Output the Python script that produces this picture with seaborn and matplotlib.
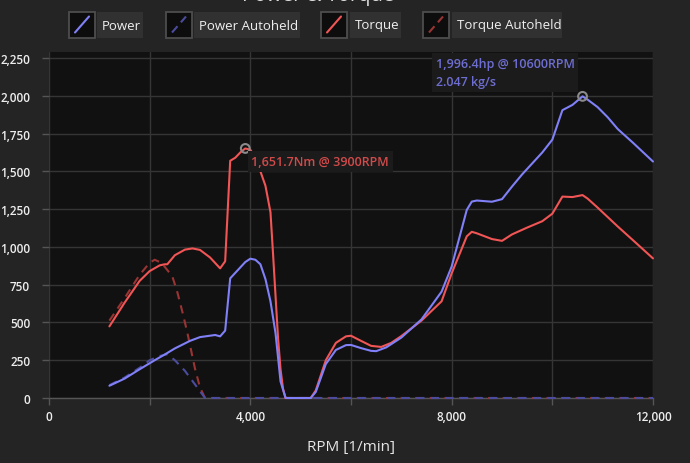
import numpy as np
import pandas as pd
import matplotlib
matplotlib.use('Agg')
import matplotlib.pyplot as plt
from matplotlib.patches import Rectangle
from matplotlib.lines import Line2D
from matplotlib.ticker import FuncFormatter
import seaborn as sns

# ---------------- data ----------------
power_rpm = [1200, 1500, 1800, 2100, 2300, 2500, 2800, 3000, 3300, 3400, 3500, 3600,
             3900, 4000, 4100, 4200, 4300, 4400, 4500, 4600, 4700, 5200, 5300, 5500,
             5700, 5900, 6000, 6200, 6400, 6500, 6700, 7000, 7400, 7800, 8000, 8300,
             8400, 8500, 8800, 9000, 9200, 9400, 9800, 10000, 10200, 10400, 10600,
             10700, 10900, 11100, 11300, 11600, 12000]
power_hp = [81, 128, 190, 250, 288, 328, 378, 403, 417, 408, 446, 792,
            900, 922, 915, 885, 787, 640, 430, 110, 0, 0, 40, 225,
            318, 350, 351, 330, 312, 310, 335, 400, 520, 704, 870, 1245,
            1300, 1307, 1299, 1316, 1400, 1480, 1625, 1710, 1905, 1940, 1996.4,
            1975, 1925, 1858, 1780, 1690, 1565]

torque_rpm = [1200, 1500, 1800, 2000, 2200, 2300, 2350, 2500, 2700, 2850, 3000, 3200,
              3400, 3500, 3600, 3700, 3800, 3900, 4000, 4100, 4200, 4300, 4400, 4450,
              4500, 4550, 4600, 4650, 4700, 5200, 5300, 5500, 5700, 5900, 6000, 6200,
              6400, 6600, 6800, 7000, 7400, 7800, 8000, 8300, 8400, 8500, 8800, 9000,
              9200, 9500, 9800, 10000, 10200, 10400, 10600, 10700, 10900, 11300, 11600,
              12000]
torque_nm = [474, 630, 775, 840, 878, 885, 885, 945, 982, 990, 980, 930,
             858, 905, 1570, 1590, 1625, 1651.7, 1643, 1590, 1500, 1405, 1230, 960,
             680, 400, 190, 60, 0, 0, 50, 250, 365, 408, 412, 378,
             345, 338, 365, 410, 512, 640, 825, 1070, 1100, 1090, 1052, 1040,
             1083, 1128, 1170, 1220, 1333, 1330, 1343, 1320, 1260, 1135, 1045,
             924]

power_ah_rpm = [1200, 1500, 1800, 2000, 2200, 2350, 2500, 2700, 2900, 3100, 12000]
power_ah_hp = [85, 135, 200, 250, 278, 290, 250, 180, 90, 0, 0]

torque_ah_rpm = [1200, 1500, 1800, 2000, 2100, 2200, 2300, 2450, 2550, 2650, 2750,
                 2900, 3000, 3100, 12000]
torque_ah_nm = [512, 660, 815, 895, 915, 900, 868, 805, 700, 570, 430,
                195, 70, 0, 0]

series_names = ['Power', 'Power Autoheld', 'Torque', 'Torque Autoheld']
power_note_2 = '2.047 kg/s'
x_label = 'RPM [1/min]'
title = 'Power & Torque'

# ---------------- style ----------------
sns.set_theme(style='dark')
plt.rcParams['font.family'] = ['Open Sans', 'DejaVu Sans']

C_POWER = '#8080f8'
C_POWER_AH = '#4c4c9e'
C_TORQUE = '#f25555'
C_TORQUE_AH = '#9a3434'
FIG_BG = '#242424'
AX_BG = '#111111'

W, H = 690, 464
fig = plt.figure(figsize=(W / 100, H / 100), dpi=100, facecolor=FIG_BG)
ax = fig.add_axes([49 / W, 1 - 399 / H, (653 - 49) / W, (399 - 53) / H])
ax.set_facecolor(AX_BG)

dash = (0, (4, 3))
plots = [
    (torque_ah_rpm, torque_ah_nm, C_TORQUE_AH, dash),
    (power_ah_rpm, power_ah_hp, C_POWER_AH, dash),
    (torque_rpm, torque_nm, C_TORQUE, '-'),
    (power_rpm, power_hp, C_POWER, '-'),
]
for xs, ys, c, ls in plots:
    sns.lineplot(x=xs, y=ys, ax=ax, color=c, linewidth=1.5, linestyle=ls,
                 estimator=None, sort=False, legend=False, clip_on=False, zorder=3)

ax.set_xlim(0, 12000)
ax.set_ylim(0, 2290)

xt = list(range(0, 12001, 2000))
ax.set_xticks(xt)
ax.set_xticklabels([f'{v:,}' if v % 4000 == 0 else '' for v in xt])
ax.set_yticks(list(range(0, 2251, 250)))
ax.yaxis.set_major_formatter(FuncFormatter(lambda v, p: f'{int(v):,}'))
ax.tick_params(axis='both', which='major', bottom=True, left=True, color='#555555',
               labelcolor='#eeeeee', length=5, width=1, labelsize=8.5)
ax.tick_params(axis='y', pad=8.5)
ax.tick_params(axis='x', pad=4)
for lbl in ax.get_xticklabels() + ax.get_yticklabels():
    lbl.set_fontweight('semibold')

ax.grid(True, color='#353535', linewidth=1)
for s in ['top', 'right', 'left']:
    ax.spines[s].set_visible(False)
ax.spines['bottom'].set_color('#555555')
ax.spines['bottom'].set_linewidth(1)

ax.set_xlabel(x_label, color='#e6e6e6', fontsize=11, labelpad=11.5)
ax.set_ylabel('')

# peak markers and annotations
pi = int(np.argmax(power_hp))
ti = int(np.argmax(torque_nm))
pk_p = (power_rpm[pi], power_hp[pi])
pk_t = (torque_rpm[ti], torque_nm[ti])
ax.scatter([pk_p[0], pk_t[0]], [pk_p[1], pk_t[1]], s=40, facecolors='none',
           edgecolors='#8a8a8a', linewidths=1.5, zorder=5)

ax.annotate(f'{pk_t[1]:,.1f}Nm @ {pk_t[0]}RPM', xy=pk_t, xytext=(6, -13),
            textcoords='offset pixels', ha='left', va='center', fontsize=9,
            fontweight='semibold', color='#d24a4a', zorder=6,
            bbox=dict(boxstyle='square,pad=0.3', fc='#1b1b1b', ec='none'))
ax.annotate(f'{pk_p[1]:,.1f}hp @ {pk_p[0]}RPM\n{power_note_2}', xy=pk_p,
            xytext=(-147, 24), textcoords='offset pixels', ha='left', va='center',
            fontsize=9, fontweight='semibold', color='#6e6ed2', zorder=6,
            linespacing=1.5,
            bbox=dict(boxstyle='square,pad=0.3', fc='#1b1b1b', ec='none'))

# title (mostly above the visible area, as in the reference)
fig.text(318 / W, 1 - 1.5 / H, title, ha='center', va='baseline', fontsize=14.5,
         color='#dddddd')

# legend
def px_rect(x0, y0, x1, y1, **kw):
    r = Rectangle((x0 / W, 1 - y1 / H), (x1 - x0) / W, (y1 - y0) / H,
                  transform=fig.transFigure, **kw)
    fig.patches.append(r)

legend_items = [
    (series_names[0], C_POWER, '-', 69, 97, 143),
    (series_names[1], C_POWER_AH, (0, (4, 2.5)), 166, 194, 300),
    (series_names[2], C_TORQUE, '-', 321, 350, 401),
    (series_names[3], C_TORQUE_AH, (0, (4, 2.5)), 423, 452, 562),
]
y0, y1 = 12.5, 38.5
for name, c, ls, sx, lx0, lx1 in legend_items:
    px_rect(sx, y0, sx + 26, y1, facecolor='#0d0d0d', edgecolor='#4d4d4d', linewidth=1.3)
    px_rect(lx0, y0, lx1, y1, facecolor='#313131', edgecolor='none')
    ln = Line2D([(sx + 6) / W, (sx + 20) / W], [1 - (y1 - 5) / H, 1 - (y0 + 5) / H],
                transform=fig.transFigure, color=c, linewidth=1.5, linestyle=ls)
    fig.lines.append(ln)
    fig.text((lx0 + 5) / W, 1 - ((y0 + y1) / 2 + 0.5) / H, name, ha='left', va='center',
             fontsize=9.5, color='#f0f0f0')

fig.savefig('out.png', dpi=100, facecolor=FIG_BG)
